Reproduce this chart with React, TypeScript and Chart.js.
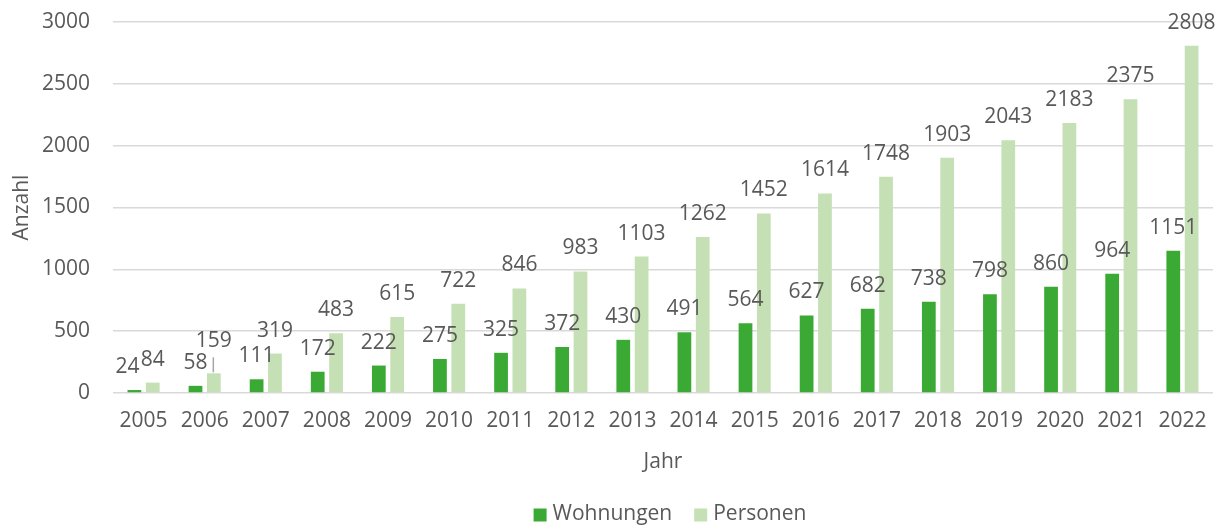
import React, { useEffect, useRef } from "react";
import { Chart, registerables } from "chart.js";

Chart.register(...registerables);

const years = ["2005","2006","2007","2008","2009","2010","2011","2012","2013","2014","2015","2016","2017","2018","2019","2020","2021","2022"];
const wohnungen = [24,58,111,172,222,275,325,372,430,491,564,627,682,738,798,860,964,1151];
const personen = [84,159,319,483,615,722,846,983,1103,1262,1452,1614,1748,1903,2043,2183,2375,2808];
const seriesNames = ["Wohnungen", "Personen"];
const seriesColors = ["#3aaa35", "#c5e0b4"];

const FONT = "'Open Sans', 'Noto Sans', sans-serif";
const TEXT = "#595959";
const FS = 21;

const labelPlugin = {
  id: "valueLabels",
  afterDatasetsDraw(chart: any) {
    const ctx = chart.ctx;
    ctx.save();
    ctx.font = `${FS}px ${FONT}`;
    ctx.fillStyle = TEXT;
    ctx.textAlign = "center";
    ctx.textBaseline = "alphabetic";
    chart.data.datasets.forEach((ds: any, di: number) => {
      const meta = chart.getDatasetMeta(di);
      meta.data.forEach((el: any, i: number) => {
        let x = el.x;
        let y = el.y - 17;
        // Excel nudged a few labels to avoid overlap
        if (di === 0 && i === 0) x -= 7;
        if (di === 1 && i === 1) {
          y -= 9;
          ctx.save();
          ctx.strokeStyle = "#a6a6a6";
          ctx.lineWidth = 1.5;
          ctx.beginPath();
          ctx.moveTo(el.x - 0.5, y + 10);
          ctx.lineTo(el.x - 0.5, el.y - 1);
          ctx.stroke();
          ctx.restore();
        }
        ctx.fillText(String(ds.data[i]), x, y);
      });
    });
    ctx.restore();
  },
};

const legendPlugin = {
  id: "customLegend",
  afterDraw(chart: any) {
    const ctx = chart.ctx;
    ctx.save();
    ctx.font = `${FS}px ${FONT}`;
    ctx.textBaseline = "middle";
    ctx.textAlign = "left";
    const box = 13, gapText = 6, gapItem = 22;
    const widths = seriesNames.map((n) => ctx.measureText(n).width);
    const total = widths.reduce((a, w) => a + box + gapText + w, 0) + gapItem * (seriesNames.length - 1);
    let x = 670 - total / 2;
    const cy = 515;
    seriesNames.forEach((n, i) => {
      ctx.fillStyle = seriesColors[i];
      ctx.fillRect(x, cy - box / 2, box, box);
      ctx.fillStyle = TEXT;
      ctx.fillText(n, x + box + gapText, cy - 1);
      x += box + gapText + widths[i] + gapItem;
    });
    ctx.restore();
  },
};

export default function App() {
  const ref = useRef<HTMLCanvasElement>(null);
  useEffect(() => {
    if (!ref.current) return;
    const chart = new Chart(ref.current, {
      type: "bar",
      data: {
        labels: years,
        datasets: [
          { label: seriesNames[0], data: wohnungen, backgroundColor: seriesColors[0], categoryPercentage: 0.6, barPercentage: 0.75 },
          { label: seriesNames[1], data: personen, backgroundColor: seriesColors[1], categoryPercentage: 0.6, barPercentage: 0.75 },
        ],
      },
      options: {
        animation: false,
        responsive: false,
        maintainAspectRatio: false,
        layout: { padding: { top: 0, right: 10, left: 0, bottom: 0 } },
        plugins: {
          legend: { display: false },
          tooltip: { enabled: false },
        },
        scales: {
          x: {
            grid: { display: false, drawTicks: false },
            border: { display: false },
            ticks: { font: { family: FONT, size: FS }, color: TEXT, maxRotation: 0, autoSkip: false, padding: 15 },
            title: { display: true, text: "Jahr", font: { family: FONT, size: FS }, color: TEXT, padding: { top: 4, bottom: 51 } },
            afterFit: (s: any) => { s.height = 133; },
          },
          y: {
            min: 0,
            max: 3000,
            grid: { color: "#d9d9d9", lineWidth: 1.5, drawTicks: false },
            border: { display: false },
            ticks: { stepSize: 500, font: { family: FONT, size: FS }, color: TEXT, padding: 23, callback: (v: any) => String(v) },
            title: { display: true, text: "Anzahl", font: { family: FONT, size: FS }, color: TEXT, padding: { top: 9, bottom: 4 } },
            afterFit: (s: any) => { s.width = 113; s.paddingTop = 22; s.paddingBottom = 0; },
          },
        },
      },
      plugins: [labelPlugin, legendPlugin],
    });
    return () => chart.destroy();
  }, []);
  return (
    <div style={{ position: "fixed", left: 0, top: 0, width: 1223, height: 526, background: "#fff" }}>
      <canvas ref={ref} width={1223} height={526} />
    </div>
  );
}
